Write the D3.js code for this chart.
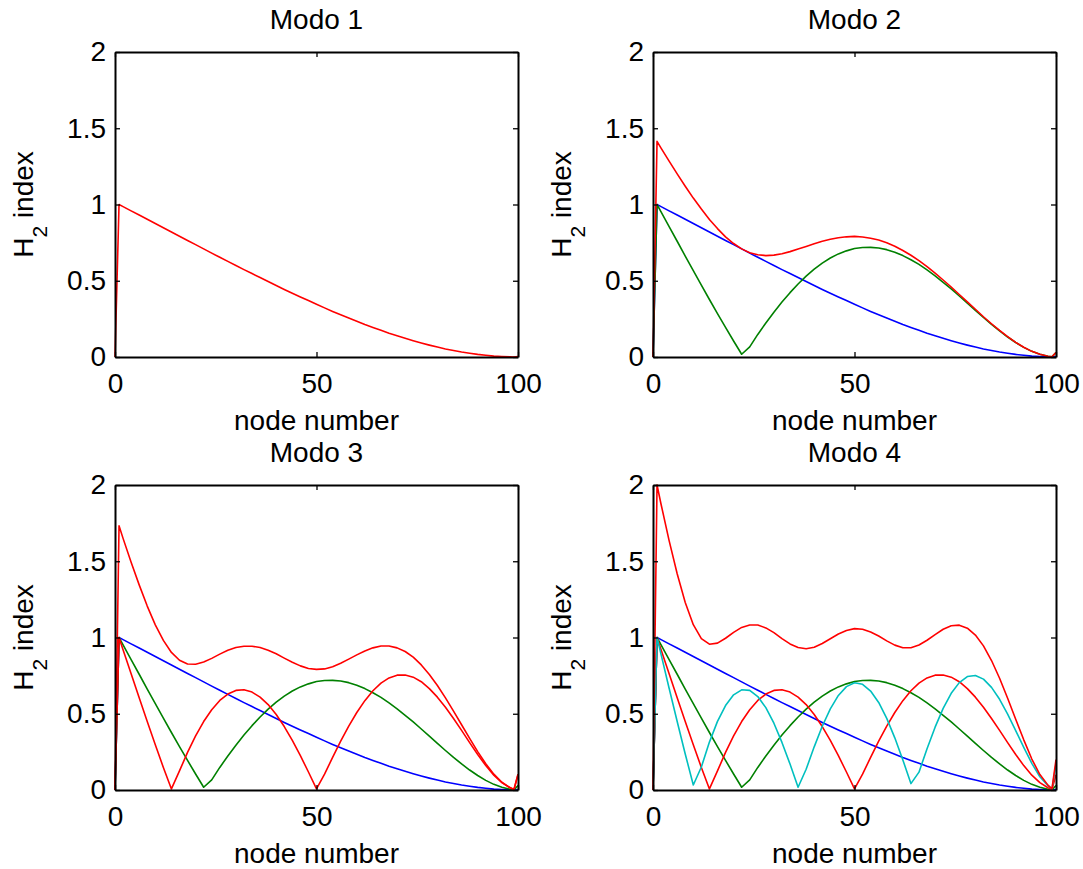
<!DOCTYPE html>
<html>
<head>
<meta charset="utf-8">
<script src="https://cdn.jsdelivr.net/npm/d3@7"></script>
<style>
  body { margin: 0; background: #fff; }
  svg { display: block; font-family: 'Liberation Sans', Arial, Helvetica, sans-serif; }
</style>
</head>
<body>
<div id="chart-mount"></div>
<script>
var WIDTH = 1083;
var HEIGHT = 869;
var TICK = 5;

// node numbers along the beam (every second node, plus both ends)
var nodes = [0, 1, 2, 4, 6, 8, 10, 12, 14, 16, 18, 20, 22, 24, 26, 28, 30, 32, 34, 36, 38, 40, 42, 44, 46, 48,
  50, 52, 54, 56, 58, 60, 62, 64, 66, 68, 70, 72, 74, 76, 78, 80, 82, 84, 86, 88, 90, 92, 94, 96, 98, 99, 100];

// H2 index of each single mode
var mode1 = [0, 1.000, 0.986, 0.958, 0.931, 0.903, 0.875, 0.848, 0.820, 0.792, 0.764, 0.737, 0.709, 0.681, 0.654, 0.627,
  0.600, 0.573, 0.547, 0.521, 0.495, 0.469, 0.443, 0.418, 0.394, 0.370, 0.346, 0.322, 0.299, 0.277, 0.255, 0.234, 0.213,
  0.194, 0.175, 0.156, 0.139, 0.123, 0.107, 0.092, 0.078, 0.065, 0.053, 0.043, 0.033, 0.025, 0.017, 0.011, 0.006, 0.003,
  0.001, 0, 0.003];
var mode2 = [0, 1.000, 0.951, 0.855, 0.759, 0.662, 0.566, 0.471, 0.377, 0.285, 0.194, 0.105, 0.018, 0.066, 0.148, 0.223,
  0.294, 0.360, 0.422, 0.479, 0.530, 0.576, 0.616, 0.649, 0.676, 0.696, 0.711, 0.718, 0.719, 0.715, 0.704, 0.687, 0.665,
  0.638, 0.607, 0.571, 0.532, 0.490, 0.446, 0.400, 0.353, 0.306, 0.259, 0.214, 0.171, 0.131, 0.095, 0.063, 0.037, 0.018,
  0.005, 0.001, 0.030];
var mode3 = [0, 1.000, 0.920, 0.762, 0.605, 0.449, 0.296, 0.148, 0.007, 0.125, 0.247, 0.355, 0.449, 0.526, 0.587, 0.629,
  0.653, 0.657, 0.642, 0.609, 0.560, 0.495, 0.416, 0.325, 0.225, 0.118, 0.008, 0.104, 0.214, 0.320, 0.419, 0.508, 0.586,
  0.651, 0.701, 0.735, 0.753, 0.754, 0.740, 0.710, 0.665, 0.609, 0.543, 0.469, 0.391, 0.311, 0.233, 0.160, 0.097, 0.048,
  0.015, 0.003, 0.100];
var mode4 = [0, 1.000, 0.889, 0.667, 0.449, 0.236, 0.033, 0.151, 0.314, 0.450, 0.554, 0.624, 0.657, 0.653, 0.613, 0.540,
  0.438, 0.312, 0.170, 0.018, 0.136, 0.283, 0.418, 0.532, 0.620, 0.678, 0.703, 0.693, 0.649, 0.574, 0.470, 0.342, 0.197,
  0.042, 0.117, 0.271, 0.412, 0.535, 0.634, 0.704, 0.744, 0.751, 0.727, 0.673, 0.595, 0.498, 0.390, 0.280, 0.175, 0.087,
  0.028, 0.006, 0.170];

// H2 index of the modes taken together (upper red curve)
var total2 = [0, 1.414, 1.370, 1.284, 1.201, 1.120, 1.042, 0.970, 0.902, 0.842, 0.788, 0.744, 0.709, 0.684, 0.671, 0.665,
  0.668, 0.677, 0.691, 0.708, 0.725, 0.743, 0.759, 0.772, 0.782, 0.788, 0.791, 0.787, 0.779, 0.767, 0.749, 0.726, 0.698,
  0.667, 0.632, 0.592, 0.550, 0.505, 0.459, 0.410, 0.362, 0.313, 0.264, 0.218, 0.174, 0.133, 0.096, 0.064, 0.037, 0.018,
  0.005, 0.001, 0.030];
var total3 = [0, 1.732, 1.650, 1.493, 1.345, 1.206, 1.083, 0.981, 0.902, 0.851, 0.826, 0.825, 0.839, 0.863, 0.891, 0.916,
  0.934, 0.943, 0.943, 0.934, 0.916, 0.893, 0.865, 0.838, 0.814, 0.797, 0.791, 0.794, 0.808, 0.831, 0.858, 0.886, 0.912,
  0.932, 0.944, 0.944, 0.932, 0.908, 0.871, 0.820, 0.757, 0.685, 0.604, 0.517, 0.428, 0.338, 0.252, 0.172, 0.104, 0.051,
  0.016, 0.003, 0.104];
var total4 = [0, 2.000, 1.874, 1.635, 1.418, 1.229, 1.084, 0.993, 0.956, 0.963, 0.995, 1.034, 1.066, 1.082, 1.082, 1.063,
  1.032, 0.993, 0.958, 0.934, 0.926, 0.936, 0.961, 0.992, 1.023, 1.046, 1.058, 1.054, 1.036, 1.010, 0.978, 0.950, 0.933,
  0.933, 0.951, 0.982, 1.019, 1.054, 1.077, 1.081, 1.061, 1.016, 0.945, 0.849, 0.733, 0.602, 0.464, 0.329, 0.203, 0.101,
  0.032, 0.007, 0.199];

var titles = ['Modo 1', 'Modo 2', 'Modo 3', 'Modo 4'];
var xTicks = [0, 50, 100];
var yTicks = [0, 0.5, 1, 1.5, 2];

var BLUE = '#0000ff';
var GREEN = '#008000';
var RED = '#ff0000';
var CYAN = '#00bfbf';

var panels = [
  [[mode1, RED]],
  [[mode1, BLUE], [mode2, GREEN], [total2, RED]],
  [[mode1, BLUE], [mode2, GREEN], [mode3, RED], [total3, RED]],
  [[mode1, BLUE], [mode2, GREEN], [mode3, RED], [mode4, CYAN], [total4, RED]]
];

var COL_X = [115, 653];
var ROW_Y = [52, 485];
var PLOT_W = 403;
var PLOT_H = 305;

var $svg = d3.select('#chart-mount').append('svg')
  .attr('width', WIDTH)
  .attr('height', HEIGHT);

$svg.append('rect')
  .attr('width', WIDTH)
  .attr('height', HEIGHT)
  .attr('fill', '#fff');

var x = d3.scaleLinear().domain([0, 100]).range([0, PLOT_W]);
var y = d3.scaleLinear().domain([0, 2]).range([PLOT_H, 0]);

var line = d3.line()
  .x(function (d, i) { return x(nodes[i]); })
  .y(function (d) { return y(d); });

function styleAxis (g) {
  g.select('.domain')
    .attr('stroke', '#000')
    .attr('stroke-width', 2);
  g.selectAll('.tick line')
    .attr('stroke', '#000')
    .attr('stroke-width', 1.3);
  g.selectAll('.tick text')
    .attr('fill', '#000')
    .style('font-size', '28px');
}

function drawPanel (series, i) {
  var g = $svg.append('g')
    .attr('transform', 'translate(' + COL_X[i % 2] + ',' + ROW_Y[Math.floor(i / 2)] + ')');

  g.selectAll('path.series')
    .data(series)
    .enter()
      .append('path')
      .attr('class', 'series')
      .attr('d', function (d) { return line(d[0]); })
      .attr('fill', 'none')
      .attr('stroke', function (d) { return d[1]; })
      .attr('stroke-width', 1.6)
      .attr('stroke-linejoin', 'round');

  g.append('g')
    .attr('transform', 'translate(0,' + PLOT_H + ')')
    .call(d3.axisBottom(x).tickValues(xTicks).tickSize(-TICK).tickSizeOuter(0).tickPadding(16)
      .tickFormat(d3.format('~g')))
    .call(styleAxis);
  g.append('g')
    .call(d3.axisTop(x).tickValues(xTicks).tickSize(-TICK).tickSizeOuter(0).tickFormat(''))
    .call(styleAxis);
  g.append('g')
    .call(d3.axisLeft(y).tickValues(yTicks).tickSize(-TICK).tickSizeOuter(0).tickPadding(9)
      .tickFormat(d3.format('~g')))
    .call(styleAxis);
  g.append('g')
    .attr('transform', 'translate(' + PLOT_W + ',0)')
    .call(d3.axisRight(y).tickValues(yTicks).tickSize(-TICK).tickSizeOuter(0).tickFormat(''))
    .call(styleAxis);

  g.append('text')
    .attr('x', PLOT_W / 2)
    .attr('y', -23)
    .attr('text-anchor', 'middle')
    .style('font-size', '28px')
    .text(titles[i]);

  g.append('text')
    .attr('x', PLOT_W / 2)
    .attr('y', PLOT_H + 73)
    .attr('text-anchor', 'middle')
    .style('font-size', '28px')
    .text('node number');

  var ylab = g.append('text')
    .attr('transform', 'translate(-82,' + (PLOT_H / 2) + ') rotate(-90)')
    .attr('text-anchor', 'middle')
    .style('font-size', '28px');
  ylab.append('tspan').text('H');
  ylab.append('tspan').attr('dy', 14).style('font-size', '21px').text('2');
  ylab.append('tspan').attr('dy', -14).text(' index');
}

panels.forEach(drawPanel);
</script>
</body>
</html>
